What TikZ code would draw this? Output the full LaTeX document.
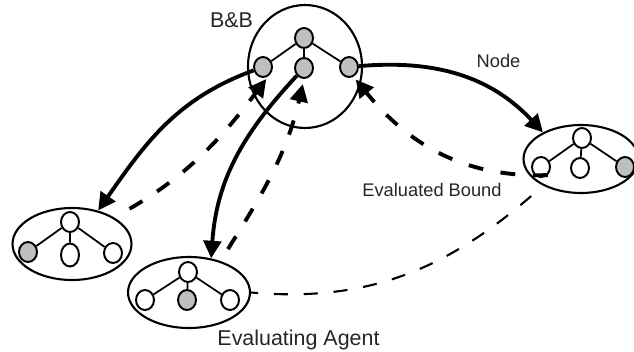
\documentclass[tikz,border=0pt]{standalone}
\usepackage{fontspec}
\setmainfont{Liberation Sans}
\usetikzlibrary{arrows.meta,shapes.geometric}

\begin{document}
\begin{tikzpicture}[x=0.02cm,y=-0.02cm,>={Triangle[length=10pt,width=10pt]},
  agent/.style={draw,ellipse,line width=1.2pt,inner sep=0pt},
  tn/.style={draw,ellipse,line width=1.1pt,fill=white,minimum width=0.36cm,minimum height=0.4cm,inner sep=0pt},
  hit/.style={tn,fill=black!25},
  branch/.style={line width=1pt},
  send/.style={->,line width=2.2pt},
  reply/.style={->,line width=2.2pt,dash pattern=on 8.5pt off 10pt},
  link/.style={line width=1.2pt,dash pattern=on 8pt off 9pt,dash phase=8pt},
  big/.style={anchor=base,inner sep=0pt,text=black!85,font=\fontsize{12.2}{14}\selectfont},
  small/.style={anchor=base,inner sep=0pt,text=black!85,font=\fontsize{10.4}{12}\selectfont}]
\useasboundingbox (0,0) rectangle (634,351);

% the B&B and the three evaluating agents
\node[agent,minimum width=2.28cm,minimum height=2.46cm] (bb) at (305,66.5) {};
\node[agent,minimum width=2.38cm,minimum height=1.44cm] (eL) at (72,244) {};
\node[agent,minimum width=2.44cm,minimum height=1.42cm] (eB) at (189,292.5) {};
\node[agent,minimum width=2.3cm,minimum height=1.36cm] (eR) at (581,159) {};

% trees
\node[hit] (bb-t) at (304,38) {};
\node[hit] (bb-l) at (263,67) {};
\node[hit] (bb-m) at (304,68) {};
\node[hit] (bb-r) at (349,67) {};

\node[tn] (eL-t) at (70,222) {};
\node[hit] (eL-l) at (28,252) {};
\node[tn,minimum height=0.46cm] (eL-m) at (70,255) {};
\node[tn] (eL-r) at (113,253) {};

\node[tn] (eB-t) at (188,272) {};
\node[tn] (eB-l) at (145,300) {};
\node[hit] (eB-m) at (187,300) {};
\node[tn] (eB-r) at (230,300) {};

\node[tn] (eR-t) at (582,138) {};
\node[tn] (eR-l) at (541,167) {};
\node[tn] (eR-m) at (580,168) {};
\node[hit] (eR-r) at (625,167) {};

\foreach \a in {bb,eL,eB,eR}
  \draw[branch] (\a-t) -- (\a-l) (\a-t) -- (\a-m) (\a-t) -- (\a-r);

% node sent out, bound sent back
\draw[send] (bb-l) to[out=200,in=55] (eL.52);
\draw[send] (bb-m) to[out=227,in=86] (eB.57);
\draw[send] (bb-r) to[out=5,in=133] (eR.145);
\draw[reply,shorten <=10pt,shorten >=2pt] (eL.32) to[out=30,in=233] (bb-l.-60);
\draw[reply,shorten <=8pt,shorten >=3pt] (eB.45) to[out=58,in=257] (bb-m.south);
\draw[reply,shorten >=2pt] (eR-l.-50) to[out=182,in=309] (bb-r.-65);
\draw[link] (eR.215) to[out=222,in=355] (eB.east);

% labels
\node[big] (bbname) at (231.5,28) {B\&B};
\node[small] (nodelbl) at (498.5,68) {Node};
\node[small] (boundlbl) at (432,196.7) {Evaluated Bound};
\node[big] (agentlbl) at (298.5,345) {Evaluating Agent};
\end{tikzpicture}
\end{document}
